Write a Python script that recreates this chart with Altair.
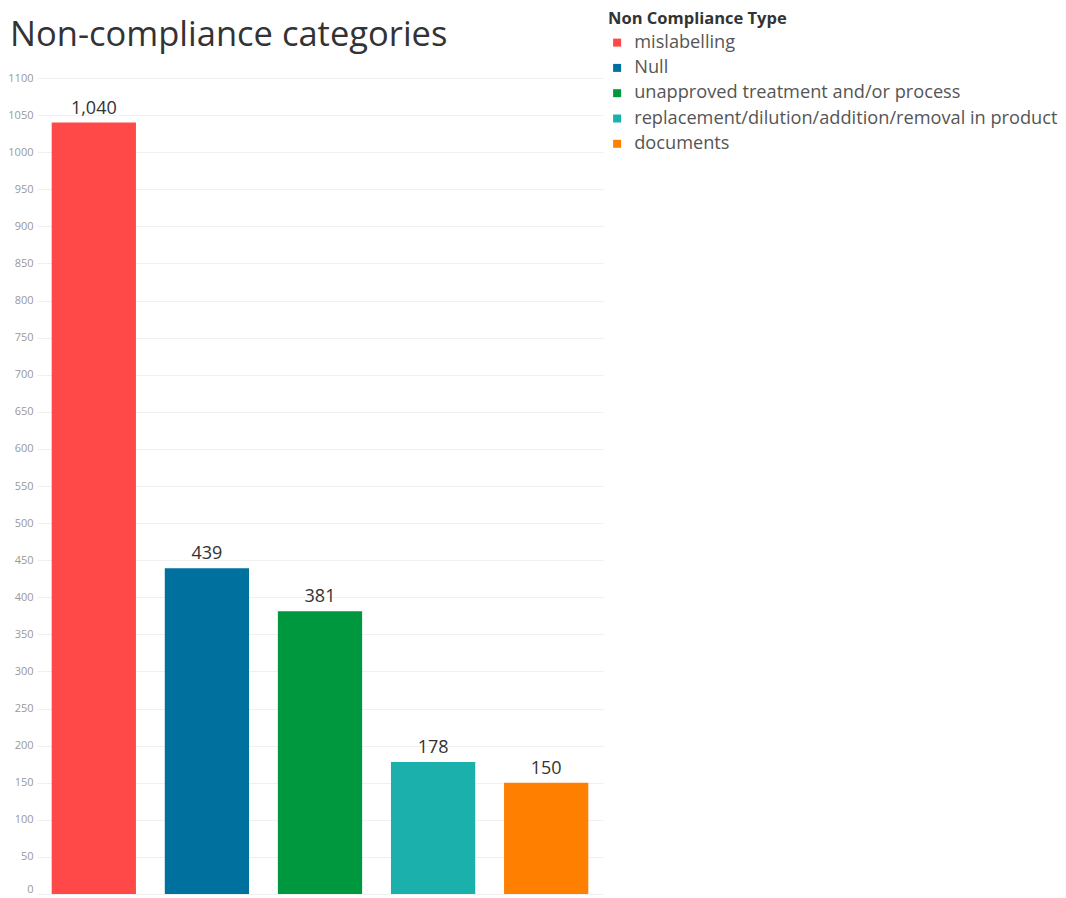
import altair as alt
import pandas as pd

categories = ["mislabelling", "Null", "unapproved treatment and/or process",
              "replacement/dilution/addition/removal in product", "documents"]
values = [1040, 439, 381, 178, 150]
colors = ["#FF4848", "#00709F", "#00983F", "#1BB0AB", "#FF7F00"]
y_ticks = list(range(0, 1101, 50))

df = pd.DataFrame({"type": categories, "count": values})

W, H = 566, 816

base = alt.Chart(df).encode(
    x=alt.X("type:N", sort=categories, axis=None,
            scale=alt.Scale(paddingInner=0.255, paddingOuter=0.13)),
    y=alt.Y("count:Q", scale=alt.Scale(domain=[0, 1100], nice=False),
            axis=alt.Axis(values=y_ticks, title=None, grid=True, gridColor="#f0f0f0",
                          domain=False, ticks=False, labelColor="#999999",
                          labelFontSize=11, labelFont="Open Sans", labelPadding=4,
                          format="d",
                          labelBaseline={"expr": "datum.value === 0 ? 'bottom' : 'middle'"})),
)

bars = base.mark_bar().encode(
    color=alt.Color("type:N", sort=categories,
                    scale=alt.Scale(domain=categories, range=colors),
                    legend=alt.Legend(title="Non Compliance Type", orient="none",
                                      legendX=571, legendY=-67,
                                      titleFont="Open Sans", titleFontSize=16.5,
                                      titleFontWeight="bold", titleColor="#333333",
                                      titleLimit=400,
                                      labelFont="Open Sans", labelFontSize=18.2,
                                      labelColor="#555555", symbolType="square",
                                      symbolSize=64, symbolStrokeWidth=0,
                                      labelOffset=8,
                                      rowPadding=6.3, labelLimit=600, titlePadding=6))
)

labels = base.mark_text(dy=-14, font="Open Sans", fontSize=18, color="#333333").encode(
    text=alt.Text("count:Q", format=",")
)

chart = (bars + labels).properties(
    width=W, height=H,
    title=alt.TitleParams("Non-compliance categories", anchor="start", frame="group",
                          font="Open Sans", fontSize=34.5, fontWeight="normal",
                          color="#333333", dx=-27, offset=-42),
    autosize=alt.AutoSizeParams(type="none"),
    padding={"left": 29, "top": 70, "right": 455, "bottom": 4},
).configure_view(stroke=None)

chart.save("out.html", embed_options={"renderer": "svg", "actions": False})
